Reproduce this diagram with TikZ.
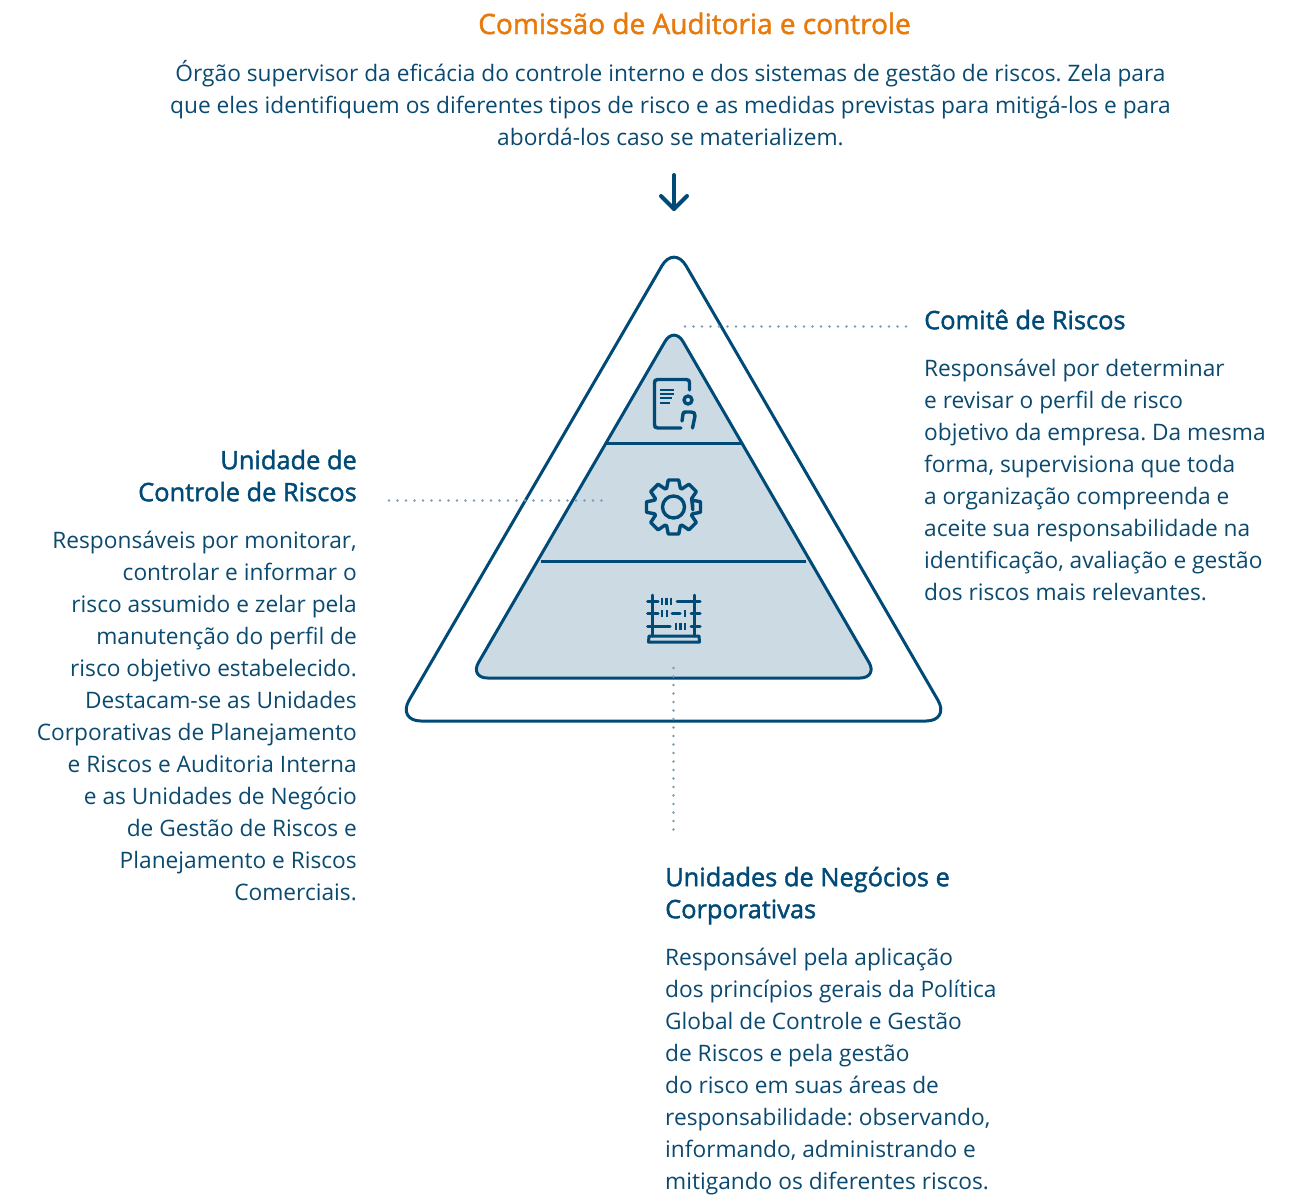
\documentclass[tikz,border=0pt]{standalone}
\usepackage{fontspec}
\setmainfont{Open Sans}
\newfontfamily\headfont{Open Sans}[FakeBold=1.6]
\definecolor{navy}{HTML}{004A77}
\definecolor{paleblue}{HTML}{CCDAE4}
\definecolor{dotblue}{HTML}{7C9DB5}
\definecolor{txt}{HTML}{0A4A70}
\definecolor{orangetitle}{HTML}{E87A0C}
\frenchspacing
\tikzset{
  x=1pt,y=-1pt,
  tri/.style={draw=navy,line width=3pt,line join=round},
  barline/.style={draw=navy,line width=3pt},
  icon/.style={draw=navy,line width=3.4pt,line cap=round,line join=round},
  iconfine/.style={draw=navy,line width=2pt,line cap=butt},
  dots/.style={draw=dotblue,line width=2.8pt,line cap=round,dash pattern=on 0pt off 8.5pt},
  body/.style={inner sep=0pt,font=\fontsize{22.7}{32}\selectfont\frenchspacing,text=txt},
  head/.style={inner sep=0pt,font=\fontsize{25.4}{32}\selectfont\headfont,text=navy},
}
\begin{document}
\begin{tikzpicture}
\useasboundingbox (0,0) rectangle (1300,1195);
\node[anchor=north,inner sep=0pt,font=\fontsize{28}{32}\selectfont\headfont,text=orangetitle] (title) at (694.5,11.4) {\strut Comissão de Auditoria e controle};
\node[body,anchor=north,align=center] (intro) at (670.5,58.6) {\strut Órgão supervisor da eficácia do controle interno e dos sistemas de gestão de riscos. Zela para\\que eles identifiquem os diferentes tipos de risco e as medidas previstas para mitigá-los e para\\abordá-los caso se materializem.};
% arrow
\coordinate (arrowtop) at (674,175);
\coordinate (arrowtip) at (674,209);
\draw[icon,line width=4pt] (arrowtop) -- (arrowtip);
\draw[icon,line width=4pt] (661,196) -- (arrowtip) -- (687,196);
% triangles
\coordinate (oa) at (674,245);
\coordinate (ob) at (397,721);
\coordinate (oc) at (950,721);
\draw[tri,fill=white,rounded corners=24pt] (oa) -- (oc) -- (ob) -- cycle;
\coordinate (ia) at (674,326);
\coordinate (ib) at (469.5,678);
\coordinate (ic) at (878,678);
\draw[tri,fill=paleblue,rounded corners=18pt] (ia) -- (ic) -- (ib) -- cycle;
\coordinate (b1l) at (607,443); \coordinate (b1r) at (741,443);
\coordinate (b2l) at (541,561); \coordinate (b2r) at (806,561);
\draw[barline] (b1l) -- (b1r);
\draw[barline] (b2l) -- (b2r);
% document icon
\draw[icon] (681,428) -- (658,428) .. controls (655,428) and (654.5,427) .. (654.5,424) -- (654.5,383) .. controls (654.5,380.5) and (655,379.5) .. (658,379.5) -- (686,379.5) .. controls (689,379.5) and (689.5,380.5) .. (689.5,383) -- (689.5,390);
\draw[iconfine] (660,390) -- (674,390) (660,394) -- (674,394) (660,398) -- (672,398) (660,402.5) -- (670,402.5);
\draw[icon] (688,400) circle (4);
\draw[icon] (682,421) -- (683,414) .. controls (683,412) and (684,412) .. (686,412) -- (691,412) .. controls (694,412) and (695,413) .. (695,416) -- (692.5,428);
% gear icon
\begin{scope}[shift={(673.5,507)}]
\draw[icon] (0,0) circle (11);
\draw[icon] (8:19.5)
 \foreach \a in {0,45,...,315} {
   -- (\a-20:20) -- (\a-11:27.5) -- (\a+11:27.5) -- (\a+20:20)
 } -- cycle;
\end{scope}
% abacus icon
\draw[icon,line width=3pt] (652.7,595) -- (652.7,636) (694.5,595) -- (694.5,636);
\draw[icon,line width=3pt] (647.5,601) -- (658,601) (677,601) -- (700,601)
  (647.5,613.5) -- (658,613.5) (672,613.5) -- (680,613.5) (691,613.5) -- (700,613.5)
  (647.5,626) -- (670,626) (691,626) -- (700,626);
\draw[navy,line width=2.4pt] (662,597.5) -- (662,604.5) (666.5,597.5) -- (666.5,604.5) (671,597.5) -- (671,604.5)
  (662,610) -- (662,617) (667,610) -- (667,617) (685,610) -- (685,617)
  (676,622.5) -- (676,629.5) (680.5,622.5) -- (680.5,629.5) (685,622.5) -- (685,629.5);
\draw[icon,line width=3pt] (649,636) -- (699,636) -- (699.5,642) -- (648.5,642) -- cycle;
% Comite
\node[head,anchor=north west,align=left] (comiteh) at (924,306.6) {\strut Comitê de Riscos};
\node[body,anchor=north west,align=left] (comite) at (924,353.6) {\strut Responsável por determinar\\e revisar o perfil de risco\\objetivo da empresa. Da mesma\\forma, supervisiona que toda\\a organização compreenda e\\aceite sua responsabilidade na\\identificação, avaliação e gestão\\dos riscos mais relevantes.};
% Unidade
\node[head,anchor=north east,align=right] (ucrh) at (357,446.6) {\strut Unidade de\\Controle de Riscos};
\node[body,anchor=north east,align=right] (ucr) at (357,525.6) {\strut Responsáveis por monitorar,\\controlar e informar o\\risco assumido e zelar pela\\manutenção do perfil de\\risco objetivo estabelecido.\\Destacam-se as Unidades\\Corporativas de Planejamento\\e Riscos e Auditoria Interna\\e as Unidades de Negócio\\de Gestão de Riscos e\\Planejamento e Riscos\\Comerciais.};
% Unidades de negocios
\node[head,anchor=north west,align=left] (unch) at (665,863.6) {\strut Unidades de Negócios e\\Corporativas};
\node[body,anchor=north west,align=left] (unc) at (665,942.6) {\strut Responsável pela aplicação\\dos princípios gerais da Política\\Global de Controle e Gestão\\de Riscos e pela gestão\\do risco em suas áreas de\\responsabilidade: observando,\\informando, administrando e\\mitigando os diferentes riscos.};
% dotted leaders
\coordinate (d1a) at (906,326.5); \coordinate (d1b) at (682,326.5);
\coordinate (d2a) at (389,500.5); \coordinate (d2b) at (609,500.5);
\coordinate (d3a) at (673.5,668); \coordinate (d3b) at (673.5,834);
\draw[dots] (d1a) -- (d1b);
\draw[dots] (d2a) -- (d2b);
\draw[dots] (d3a) -- (d3b);
\end{tikzpicture}
\end{document}
